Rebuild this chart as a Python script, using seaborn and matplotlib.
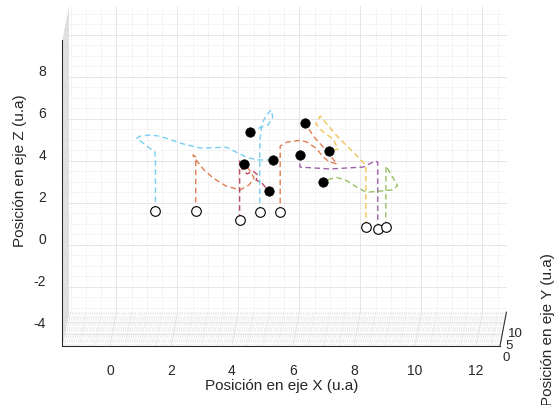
import numpy as np
import pandas as pd
import matplotlib
matplotlib.use("Agg")
import matplotlib.pyplot as plt
import matplotlib.transforms as mtransforms
import seaborn as sns

# ---- trajectories (x, z) : start at the open circle, end at the filled dot ----
x_t1 = [1.49, 1.49, 1.47, 0.88, 0.98, 1.31, 1.64, 2.40, 2.95, 3.83, 4.15, 4.48, 4.81, 5.35]
z_t1 = [1.24, 3.75, 4.05, 4.70, 4.80, 4.86, 4.80, 4.43, 4.24, 4.27, 4.03, 3.80, 3.67, 3.67]
x_t2 = [2.81, 2.81, 2.72, 2.85, 3.05, 3.38, 3.80, 4.26, 4.56, 4.72, 4.62, 4.40]
z_t2 = [1.22, 3.81, 3.90, 3.62, 3.24, 2.81, 2.43, 2.24, 2.48, 2.81, 3.10, 3.49]
x_t3 = [4.25, 4.25, 4.33, 4.49, 4.69, 4.85, 4.79, 4.98, 5.20]
z_t3 = [0.82, 3.62, 3.24, 3.00, 3.14, 2.95, 2.71, 2.57, 2.19]
x_t4 = [4.91, 4.91, 4.92, 4.98, 5.11, 5.28, 5.34, 5.18, 4.98, 4.79, 4.58]
z_t4 = [1.19, 4.19, 4.67, 5.38, 5.76, 6.05, 5.71, 5.33, 5.24, 5.14, 4.99]
x_t5 = [5.58, 5.58, 5.80, 6.23, 6.46, 6.79, 6.98, 7.21, 7.44, 7.05, 6.72, 6.39]
z_t5 = [1.18, 4.33, 4.52, 4.60, 4.52, 4.19, 3.81, 3.57, 3.48, 4.19, 4.71, 5.41]
x_t6 = [8.39, 8.39, 8.26, 7.87, 7.44, 7.08, 6.89, 6.75, 6.95, 7.31, 7.48, 7.19]
z_t6 = [0.49, 3.38, 3.62, 4.19, 4.81, 5.43, 5.76, 5.38, 5.05, 4.67, 4.19, 4.10]
x_t7 = [8.78, 8.78, 8.69, 8.30, 7.21, 6.23, 6.23]
z_t7 = [0.38, 3.56, 3.62, 3.33, 3.24, 3.33, 3.92]
x_t8 = [9.04, 9.05, 9.24, 9.43, 9.25, 8.85, 8.42, 8.09, 7.76, 7.43, 7.21, 6.99]
z_t8 = [0.49, 3.38, 2.92, 2.44, 2.24, 2.19, 2.13, 2.37, 2.68, 2.84, 2.76, 2.62]

trayectorias = ["T1", "T2", "T3", "T4", "T5", "T6", "T7", "T8"]
colores = ["#4DBEEE", "#D95319", "#A2142F", "#4DBEEE",
           "#D95319", "#EDB120", "#7E2F8E", "#77AC30"]

x_ticks = [0, 2, 4, 6, 8, 10, 12]
z_ticks = [-4, -2, 0, 2, 4, 6, 8]
y_ticks = [0, 5, 10]

# box limits and the small oblique offset of the depth (Y) axis
X_LIM = (-1.574, 12.787)
Z_LIM = (-5.19, 9.38)
Y_LIM = (0.0, 14.0)
DX, DZ = 0.213, 1.62

xs = [x_t1, x_t2, x_t3, x_t4, x_t5, x_t6, x_t7, x_t8]
zs = [z_t1, z_t2, z_t3, z_t4, z_t5, z_t6, z_t7, z_t8]
df = pd.concat([pd.DataFrame({"tray": t, "x": x, "z": z, "orden": range(len(x))})
                for t, x, z in zip(trayectorias, xs, zs)], ignore_index=True)
inicio = df.groupby("tray").first().reset_index()
fin = df.groupby("tray").last().reset_index()

sns.set_theme(style="white")
plt.rcParams["font.family"] = ["Liberation Sans", "DejaVu Sans"]
plt.rcParams["axes.unicode_minus"] = False

W, H = 560, 406
fig = plt.figure(figsize=(W / 100, H / 100), dpi=100)
ax = fig.add_axes([62 / W, (H - 347) / H, (508 - 62) / W, (347 - 7) / H])
ax.set_xlim(X_LIM[0], X_LIM[1] + DX + 0.05)
ax.set_ylim(Z_LIM[0], Z_LIM[1] + DZ)

MAJ = dict(color="#e2e2e2", lw=0.6, zorder=0)
MIN = dict(color="#dadada", lw=0.5, ls=(0, (1, 1.6)), zorder=0)

def frac(y):
    return (y - Y_LIM[0]) / (Y_LIM[1] - Y_LIM[0])

# back wall grid
for v in np.arange(-1.5, X_LIM[1] + 1e-9, 0.5):
    st = MAJ if v % 2 == 0 else MIN
    ax.plot([v + DX, v + DX], [Z_LIM[0] + DZ, Z_LIM[1] + DZ], **st)
for v in np.arange(-5.0, Z_LIM[1] + 1e-9, 0.5):
    st = MAJ if v % 2 == 0 else MIN
    ax.plot([X_LIM[0] + DX, X_LIM[1] + DX], [v + DZ, v + DZ], **st)

# floor grid
for y in np.arange(Y_LIM[0], Y_LIM[1] + 1e-9, 0.5):
    f = frac(y)
    st = MAJ if y % 5 == 0 else MIN
    ax.plot([X_LIM[0] + f * DX, X_LIM[1] + f * DX], [Z_LIM[0] + f * DZ] * 2, **st)
for v in np.arange(-1.5, X_LIM[1] + 1e-9, 0.5):
    st = MAJ if v % 2 == 0 else MIN
    ax.plot([v, v + DX], [Z_LIM[0], Z_LIM[0] + DZ], **st)

# side wall grid
for y in np.arange(Y_LIM[0], Y_LIM[1] + 1e-9, 0.5):
    f = frac(y)
    st = MAJ if y % 5 == 0 else MIN
    ax.plot([X_LIM[0] + f * DX] * 2, [Z_LIM[0] + f * DZ, Z_LIM[1] + f * DZ], **st)
for v in np.arange(-5.0, Z_LIM[1] + 1e-9, 0.5):
    st = MAJ if v % 2 == 0 else MIN
    ax.plot([X_LIM[0], X_LIM[0] + DX], [v, v + DZ], **st)

# trajectories
sns.lineplot(data=df, x="x", y="z", hue="tray", palette=colores, sort=False,
             estimator=None, legend=False, ax=ax, linewidth=1.0, alpha=0.75,
             linestyle=(0, (4, 2.5)), zorder=3)
sns.scatterplot(data=inicio, x="x", y="z", ax=ax, marker="o", s=48,
                color="white", edgecolor="black", linewidth=0.8, zorder=4)
sns.scatterplot(data=fin, x="x", y="z", ax=ax, marker="o", s=46,
                color="black", edgecolor="black", linewidth=0.5, zorder=5)

# axes lines and ticks
AX_C = "#262626"
for s in ["top", "right"]:
    ax.spines[s].set_visible(False)
ax.spines["left"].set_bounds(*Z_LIM)
ax.spines["bottom"].set_bounds(*X_LIM)
for s in ["left", "bottom"]:
    ax.spines[s].set_color(AX_C)
    ax.spines[s].set_linewidth(0.75)
ax.set_xticks(x_ticks)
ax.set_yticks(z_ticks)
ax.tick_params(axis="both", direction="out", length=7.5, width=0.6,
               color=AX_C, labelcolor=AX_C, labelsize=10)
ax.tick_params(axis="x", pad=5)
ax.tick_params(axis="y", pad=4)

# depth axis
ax.plot([X_LIM[1], X_LIM[1] + DX], [Z_LIM[0], Z_LIM[0] + DZ], color=AX_C,
        lw=0.75, zorder=6, clip_on=False)
off = mtransforms.offset_copy(ax.transData, fig=fig, x=3, y=-11, units="dots")
for yt in y_ticks:
    f = frac(yt)
    ax.text(X_LIM[1] + f * DX, Z_LIM[0] + f * DZ, str(yt), transform=off,
            ha="left", va="center", fontsize=9.5, color=AX_C, clip_on=False)

ax.set_xlabel("Posición en eje X (u.a)", fontsize=11, color=AX_C)
ax.set_ylabel("Posición en eje Z (u.a)", fontsize=11, color=AX_C)
ax.xaxis.set_label_coords(0.493, -0.094)
ax.yaxis.set_label_coords(-0.078, 0.52)
fig.text(548 / W, 1 - 330 / H, "Posición en eje Y (u.a)", rotation=90,
         ha="center", va="center", fontsize=11, color=AX_C)

fig.savefig("out.png", dpi=100)
